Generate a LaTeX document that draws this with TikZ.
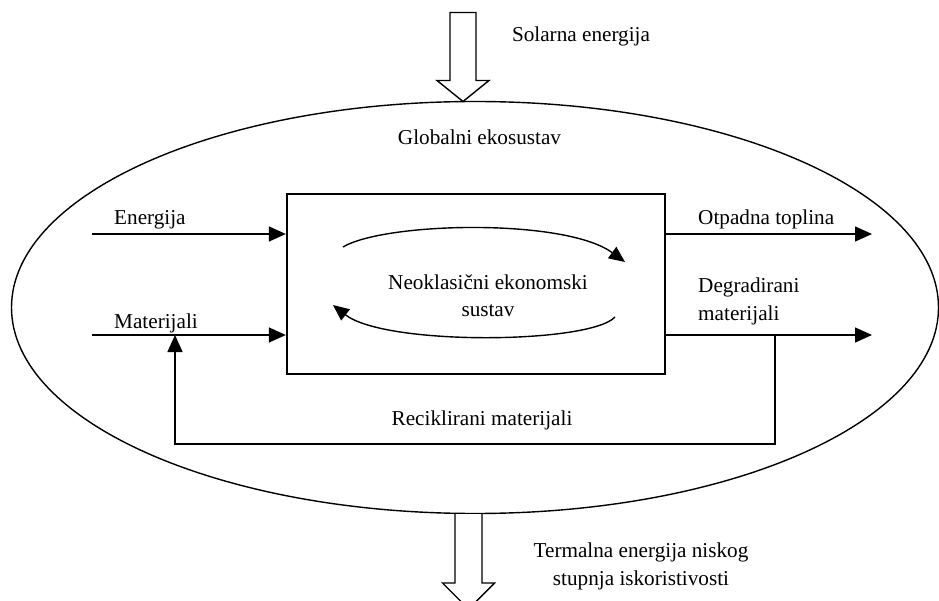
\documentclass[tikz,border=0pt]{standalone}
\usepackage{fontspec}
\setmainfont{Liberation Serif}
\usetikzlibrary{arrows.meta,shapes.geometric,calc}
\tikzset{
  lbl/.style={font=\fontsize{21.2}{28}\selectfont, inner sep=0pt},
  flow/.style={line width=1.4pt, -{Triangle[length=17pt,width=15pt]}},
  plain/.style={line width=1.4pt},
  cyc/.style={line width=1.4pt, -{Triangle[length=16pt,width=14pt]}},
  blockarrow/.style={line width=1.4pt, fill=white, line join=miter}
}
\begin{document}
\begin{tikzpicture}[x=1pt,y=-1pt]
\useasboundingbox (0,0) rectangle (939,601);
\clip (0,0) rectangle (939,601);

% global ecosystem ellipse
\node[draw, ellipse, line width=1.4pt, inner sep=0pt, minimum width=927pt, minimum height=412pt] (eco) at (475,307.5) {};

% economic system box
\node[draw, line width=2.3pt, inner sep=0pt, minimum width=378pt, minimum height=180pt] (box) at (476,284) {};

% solar energy block arrow
\coordinate (stip) at (463,101.5);
\draw[blockarrow] ($(stip)+(-13,-89)$) -- ($(stip)+(13,-89)$) -- ($(stip)+(13,-21)$) -- ($(stip)+(26,-21)$) -- (stip) -- ($(stip)+(-26,-21)$) -- ($(stip)+(-13,-21)$) -- cycle;

% thermal energy block arrow
\coordinate (ttop) at (468.5,514);
\draw[blockarrow] ($(ttop)+(-13.5,0)$) -- ($(ttop)+(-13.5,69)$) -- ($(ttop)+(-26,69)$) -- ($(ttop)+(0,95)$) -- ($(ttop)+(26,69)$) -- ($(ttop)+(13.5,69)$) -- ($(ttop)+(13.5,0)$);

% inputs
\coordinate (ein) at (92,234);
\coordinate (min) at (92,335);
\draw[flow] (ein) -- (ein -| box.west);
\draw[flow] (min) -- (min -| box.west);

% outputs
\coordinate (eout) at (872,234);
\coordinate (mout) at (872,335);
\draw[flow] (eout -| box.east) -- (eout);
\draw[flow] (mout -| box.east) -- (mout);

% recycling loop
\coordinate (rstart) at (775,335);
\coordinate (rend) at (175,335);
\draw[plain, -{Triangle[length=17pt,width=15pt]}] (rstart) -- (775,444) -- (175,444) -- (rend);

% inner circulation arrows
\coordinate (c1a) at (343,247);
\coordinate (c1b) at (625,262);
\coordinate (c2a) at (615,317);
\coordinate (c2b) at (333,305);
\draw[cyc] (c1a) .. controls (385,222) and (565,218) .. (c1b);
\draw[cyc] (c2a) .. controls (590,344) and (385,346) .. (c2b);

% labels
\node[lbl, anchor=base] (tsol) at (581,42) {Solarna energija};
\node[lbl, anchor=base] (tglob) at (479.5,145) {Globalni ekosustav};
\node[lbl, anchor=base west] (tene) at (114,225) {Energija};
\node[lbl, anchor=base west] (tmat) at (114,329) {Materijali};
\node[lbl, anchor=base west] (totp) at (698,225) {Otpadna toplina};
\node[lbl, anchor=base west, align=left] (tdeg) at (698,320) {Degradirani\\materijali};
\node[lbl, anchor=base, align=center] (tneo) at (488,317) {Neoklasični ekonomski\\sustav};
\node[lbl, anchor=base] (trec) at (482,425) {Reciklirani materijali};
\node[lbl, anchor=base, align=center] (tterm) at (641,585) {Termalna energija niskog\\stupnja iskoristivosti};
\end{tikzpicture}
\end{document}
